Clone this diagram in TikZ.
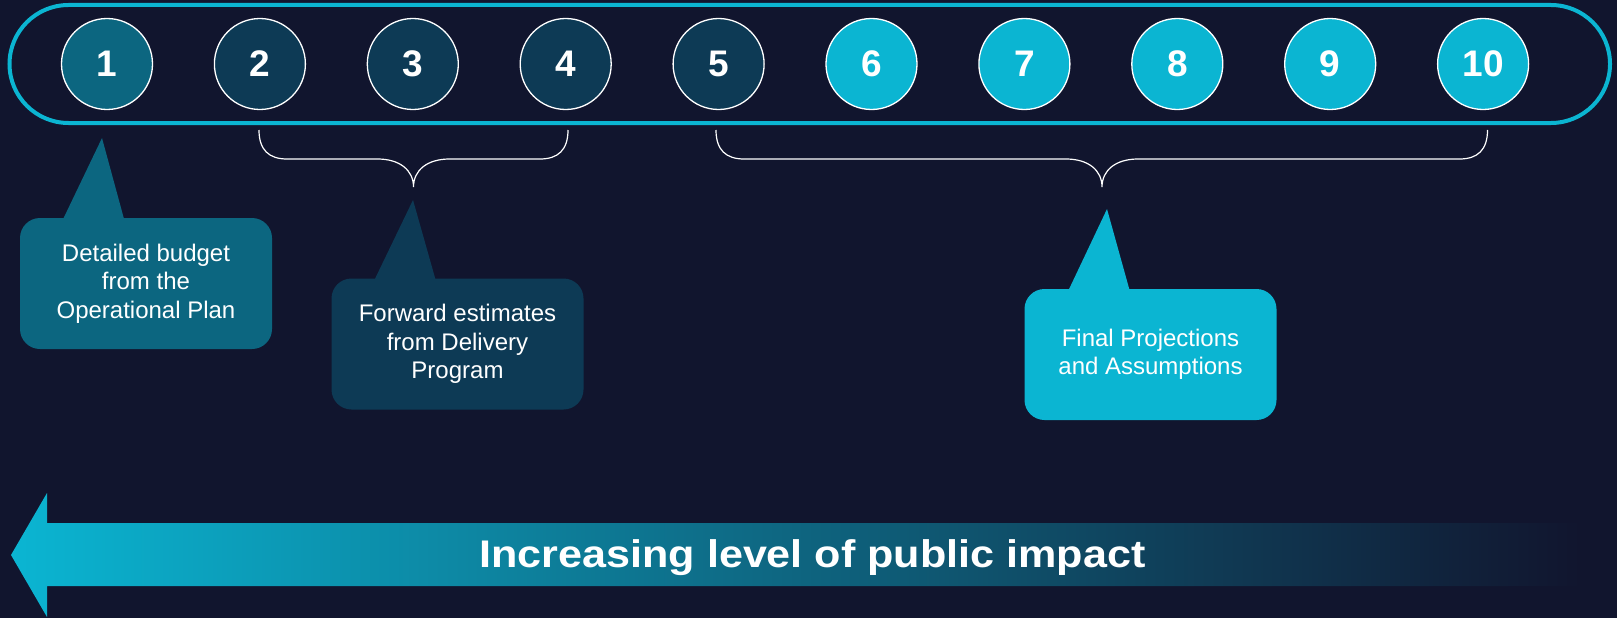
\documentclass[tikz,border=0pt]{standalone}
\usepackage{fontspec}
\usetikzlibrary{calc}
\setmainfont{Liberation Sans}
\newfontfamily\widebold[FakeStretch=1.12]{Liberation Sans Bold}
\definecolor{bgc}{HTML}{11152E}
\definecolor{tealc}{HTML}{0C6680}
\definecolor{darkc}{HTML}{0D3A55}
\definecolor{cyanc}{HTML}{0BB5D2}
\newcommand\mybrace[3]{% left x, middle x, right x
  \draw[bracestyle] (#1,130) .. controls (#1,150) and (#1+10,159) .. (#1+28,159) -- (#2-36,159)
    .. controls (#2-14,159) and (#2,170) .. (#2,187)
    .. controls (#2,170) and (#2+14,159) .. (#2+36,159) -- (#3-28,159)
    .. controls (#3-10,159) and (#3,150) .. (#3,130);}
\begin{document}
\begin{tikzpicture}[x=1pt,y=-1pt,
  numc/.style={circle, draw=white, line width=1.3pt, minimum size=91pt, inner sep=0pt,
    text=white, font=\fontsize{37}{40}\selectfont\bfseries},
  bracestyle/.style={draw=white, line width=1.2pt},
  callout/.style={rounded corners=20pt, minimum width=252pt, minimum height=131pt,
    inner sep=0pt, text=white, align=center, font=\fontsize{24}{28.5}\selectfont}]
\fill[bgc] (0,0) rectangle (1617,618);
\useasboundingbox (0,0) rectangle (1617,618);

% frame
\draw[cyanc, line width=4pt, rounded corners=59pt] (9.5,5) rectangle (1610,123);

% circles
\foreach \i/\c in {1/tealc,2/darkc,3/darkc,4/darkc,5/darkc,6/cyanc,7/cyanc,8/cyanc,9/cyanc,10/cyanc}
  \node[numc, fill=\c] (c\i) at ({107+152.9*(\i-1)},64) {\i};

% braces
\mybrace{259}{413.5}{568}
\mybrace{716}{1102}{1487.5}

% callouts
\node[callout, fill=tealc] (t1) at (146,283.5) {\raisebox{-2pt}{\parbox{250pt}{\centering Detailed budget\\from the\\Operational Plan}}};
\coordinate (p1) at (102,138);
\fill[tealc] ($(t1.north west)+(42,4)$) -- (p1) -- ($(t1.north west)+(105,4)$) -- cycle;

\node[callout, fill=darkc] (t2) at (457.5,344) {\raisebox{-2pt}{\parbox{250pt}{\centering Forward estimates\\from Delivery\\Program}}};
\coordinate (p2) at (413,200);
\fill[darkc] ($(t2.north west)+(42,4)$) -- (p2) -- ($(t2.north west)+(105,4)$) -- cycle;

\node[callout, fill=cyanc] (t3) at (1150.5,354.5) {\raisebox{-1pt}{\parbox{250pt}{\centering Final Projections\\and Assumptions}}};
\coordinate (p3) at (1107,209);
\fill[cyanc] ($(t3.north west)+(43,4)$) -- (p3) -- ($(t3.north west)+(106,4)$) -- cycle;

% arrow
\shade[left color=cyanc, middle color=tealc, right color=bgc]
  (11,555) -- (47,493) -- (47,523) -- (1581,523) -- (1581,586) -- (47,586) -- (47,617) -- cycle;
\node[anchor=base, inner sep=0pt, text=white,
  font=\fontsize{38.5}{42}\selectfont\widebold] (lbl) at (812.5,567.5)
  {Increasing level of public impact};
\end{tikzpicture}
\end{document}
